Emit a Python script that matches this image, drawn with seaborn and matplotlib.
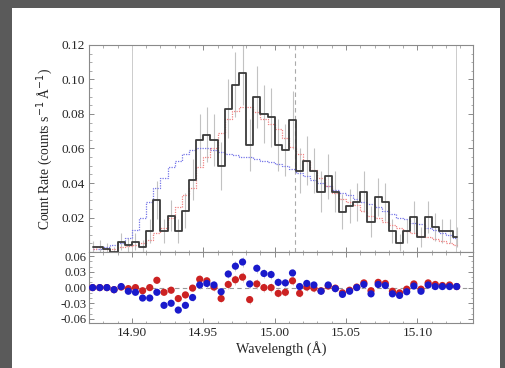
import numpy as np
import pandas as pd
import matplotlib
matplotlib.use("Agg")
import matplotlib.pyplot as plt
from matplotlib.patches import Rectangle
from matplotlib.ticker import MultipleLocator, FormatStrFormatter
import seaborn as sns

# ---------------- data ----------------
wavelength = [14.8725, 14.8775, 14.8825, 14.8875, 14.8925, 14.8975, 14.9025, 14.9075,
              14.9125, 14.9175, 14.9225, 14.9275, 14.9325, 14.9375, 14.9425, 14.9475,
              14.9525, 14.9575, 14.9625, 14.9675, 14.9725, 14.9775, 14.9825, 14.9875,
              14.9925, 14.9975, 15.0025, 15.0075, 15.0125, 15.0175, 15.0225, 15.0275,
              15.0325, 15.0375, 15.0425, 15.0475, 15.0525, 15.0575, 15.0625, 15.0675,
              15.0725, 15.0775, 15.0825, 15.0875, 15.0925, 15.0975, 15.1025, 15.1075,
              15.1125, 15.1175, 15.1225, 15.1275]

count_rate = [0.0027, 0.003, 0.002, 0.0, 0.006, 0.004, 0.006, 0.003,
              0.012, 0.030, 0.012, 0.021, 0.012, 0.024, 0.042, 0.065,
              0.068, 0.065, 0.050, 0.083, 0.097, 0.104, 0.062, 0.090,
              0.080, 0.078, 0.062, 0.059, 0.0765, 0.047, 0.053, 0.047,
              0.035, 0.044, 0.035, 0.0234, 0.0267, 0.029, 0.035, 0.0176,
              0.032, 0.029, 0.012, 0.0054, 0.012, 0.0203, 0.0087, 0.0203,
              0.0145, 0.012, 0.012, 0.0087]

count_err = [0.004, 0.004, 0.003, 0.003, 0.005, 0.004, 0.005, 0.004,
             0.007, 0.011, 0.007, 0.009, 0.007, 0.010, 0.012, 0.015,
             0.016, 0.015, 0.014, 0.017, 0.019, 0.019, 0.015, 0.018,
             0.017, 0.017, 0.015, 0.015, 0.017, 0.013, 0.014, 0.013,
             0.012, 0.013, 0.012, 0.010, 0.010, 0.011, 0.012, 0.009,
             0.011, 0.011, 0.007, 0.005, 0.007, 0.009, 0.006, 0.009,
             0.008, 0.007, 0.007, 0.006]

model_red = [0.002, 0.003, 0.002, 0.002, 0.003, 0.0035, 0.004, 0.005,
             0.007, 0.011, 0.014, 0.020, 0.026, 0.033, 0.037, 0.049,
             0.055, 0.060, 0.069, 0.077, 0.082, 0.084, 0.084, 0.081,
             0.077, 0.074, 0.071, 0.066, 0.061, 0.057, 0.053, 0.0475,
             0.043, 0.038, 0.034, 0.031, 0.029, 0.027, 0.024, 0.021,
             0.0195, 0.0176, 0.0157, 0.0137, 0.0124, 0.011, 0.0095, 0.0085,
             0.0073, 0.0064, 0.0054, 0.004]

model_blue = [0.002, 0.002, 0.003, 0.004, 0.005, 0.008, 0.013, 0.020,
              0.029, 0.037, 0.043, 0.049, 0.053, 0.057, 0.059, 0.060,
              0.060, 0.059, 0.058, 0.057, 0.056, 0.055, 0.055, 0.054,
              0.053, 0.052, 0.051, 0.050, 0.048, 0.046, 0.044, 0.042,
              0.040, 0.038, 0.036, 0.034, 0.033, 0.031, 0.029, 0.028,
              0.026, 0.024, 0.022, 0.020, 0.019, 0.017, 0.016, 0.014,
              0.013, 0.011, 0.010, 0.008]

resid_blue = [0.0, 0.0, 0.0, -0.004, 0.002, -0.007, -0.009, -0.020,
              -0.020, -0.009, -0.034, -0.030, -0.043, -0.034, -0.019, 0.005,
              0.008, 0.005, -0.008, 0.026, 0.041, 0.049, 0.007, 0.037,
              0.027, 0.025, 0.010, 0.009, 0.028, 0.002, 0.008, 0.005,
              -0.007, 0.005, -0.002, -0.013, -0.007, 0.0, 0.006, -0.012,
              0.006, 0.004, -0.012, -0.015, -0.008, 0.003, -0.007, 0.005,
              0.002, 0.002, 0.002, 0.002]

resid_red = [0.0, 0.0, 0.0, -0.004, 0.001, -0.002, 0.0, -0.006,
             0.0, 0.014, -0.009, -0.005, -0.021, -0.014, -0.001, 0.016,
             0.013, 0.001, -0.021, 0.006, 0.015, 0.020, -0.023, 0.007,
             0.0, 0.0, -0.011, -0.009, 0.013, -0.011, 0.001, -0.001,
             -0.006, 0.003, -0.001, -0.010, -0.005, 0.001, 0.009, -0.006,
             0.010, 0.008, -0.007, -0.010, -0.003, 0.007, -0.003, 0.009,
             0.006, 0.004, 0.005, 0.002]

range_lines = [14.90, 15.127]
line_center = [15.014]

df = pd.DataFrame({"wav": wavelength, "rate": count_rate, "err": count_err,
                   "red": model_red, "blue": model_blue,
                   "rblue": resid_blue, "rred": resid_red})

# ---------------- style ----------------
sns.set_style("ticks")
plt.rcParams["font.family"] = ["Liberation Serif", "DejaVu Serif"]
plt.rcParams["font.size"] = 9.6
plt.rcParams["axes.unicode_minus"] = True

fig = plt.figure(figsize=(5.06, 3.68), dpi=100, facecolor="#5a5a5a")
fig.patches.append(Rectangle((12 / 506, 0), (500 - 12) / 506, (368 - 8) / 368,
                             transform=fig.transFigure, facecolor="white",
                             edgecolor="none", zorder=-10))

ax1 = fig.add_axes([0.176, 0.315, 0.759, 0.563])
ax2 = fig.add_axes([0.176, 0.122, 0.759, 0.193], sharex=ax1)

# ---------------- top panel ----------------
for xv in range_lines:
    ax1.axvline(xv, color="#cccccc", lw=0.7, zorder=1)
for xv in line_center:
    ax1.axvline(xv, color="#aaaaaa", lw=0.8, ls=(0, (4, 3)), zorder=1)

ax1.vlines(df["wav"], df["rate"] - df["err"], df["rate"] + df["err"],
           color="#c2c2c2", lw=0.8, zorder=2)

sns.lineplot(data=df, x="wav", y="blue", ax=ax1, color="#7777e8", lw=0.9,
             ls=(0, (1, 1)), drawstyle="steps-mid", estimator=None, zorder=3)
sns.lineplot(data=df, x="wav", y="red", ax=ax1, color="#f08484", lw=0.9,
             ls=(0, (1, 1)), drawstyle="steps-mid", estimator=None, zorder=3)
sns.lineplot(data=df, x="wav", y="rate", ax=ax1, color="#3a3a3a", lw=1.3,
             drawstyle="steps-mid", estimator=None, zorder=4)

ax1.set_xlim(14.87, 15.139)
ax1.set_ylim(0.0, 0.12)
ax1.set_yticks([0.02, 0.04, 0.06, 0.08, 0.10, 0.12])
ax1.yaxis.set_major_formatter(FormatStrFormatter("%.2f"))
ax1.yaxis.set_minor_locator(MultipleLocator(0.005))
ax1.set_ylabel("Count Rate (counts s$^{-1}$ Å$^{-1}$)", fontsize=9.8, labelpad=5)
ax1.set_xlabel("")
ax1.tick_params(axis="x", labelbottom=False)

# ---------------- residual panel ----------------
ax2.axhline(0, color="#999999", lw=0.8, ls=(0, (4, 3)), zorder=1)
ax2.vlines(df["wav"], df["rred"] - df["err"] * 0.5, df["rred"] + df["err"] * 0.5,
           color="#d7c9c9", lw=0.7, zorder=2)
ax2.vlines(df["wav"], df["rblue"] - df["err"] * 0.5, df["rblue"] + df["err"] * 0.5,
           color="#c9c9d7", lw=0.7, zorder=2)
sns.scatterplot(data=df, x="wav", y="rred", ax=ax2, color="#cc2222", s=27,
                edgecolor="none", zorder=3)
sns.scatterplot(data=df, x="wav", y="rblue", ax=ax2, color="#1a1acc", s=27,
                edgecolor="none", zorder=4)

ax2.set_ylim(-0.068, 0.068)
ax2.set_yticks([-0.06, -0.03, 0.0, 0.03, 0.06])
ax2.yaxis.set_major_formatter(FormatStrFormatter("%.2f"))
ax2.yaxis.set_minor_locator(MultipleLocator(0.01))
ax2.set_xticks([14.90, 14.95, 15.00, 15.05, 15.10])
ax2.xaxis.set_major_formatter(FormatStrFormatter("%.2f"))
ax2.xaxis.set_minor_locator(MultipleLocator(0.01))
ax2.set_xlabel("Wavelength (Å)", fontsize=10.2, labelpad=1)
ax2.set_ylabel("")

for ax in (ax1, ax2):
    for sp in ax.spines.values():
        sp.set_visible(True)
        sp.set_color("#8a8a8a")
        sp.set_linewidth(0.8)
    ax.tick_params(which="both", direction="in", top=True, right=True,
                   color="#8a8a8a", labelsize=9.6, pad=3)
    ax.tick_params(which="major", length=3.5, width=0.7)
    ax.tick_params(which="minor", length=1.8, width=0.5)
    ax.set_facecolor("white")
ax2.tick_params(axis="y", labelsize=9.0, pad=2)

fig.savefig("out.png", dpi=100, facecolor=fig.get_facecolor())
